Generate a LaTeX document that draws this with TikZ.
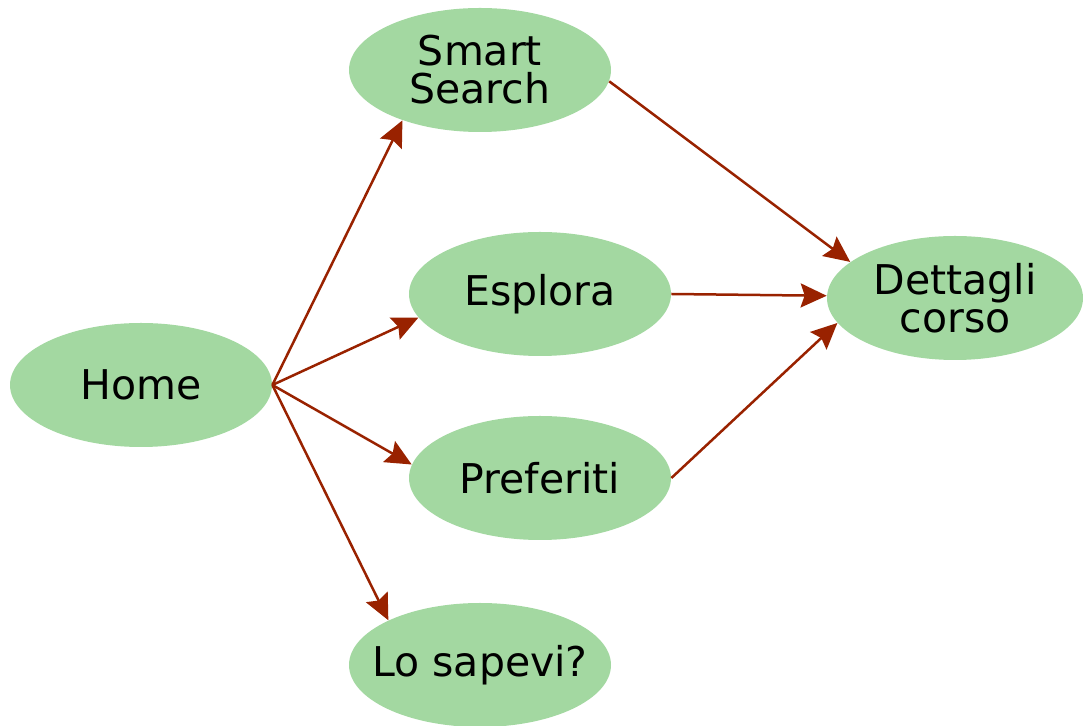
\documentclass[tikz,border=0pt]{standalone}
\usepackage{fontspec}
\setmainfont{DejaVu Sans}
\usetikzlibrary{shapes.geometric,arrows.meta}
\definecolor{nodefill}{HTML}{A3D8A1}
\definecolor{arrowcol}{HTML}{992200}
\begin{document}
\begin{tikzpicture}[x=0.5pt,y=-0.5pt,
  pagenode/.style={ellipse,fill=nodefill,draw=none,inner sep=-20pt,
    minimum width=131pt,minimum height=62pt,align=center,
    font=\fontsize{20.5}{19}\selectfont},
  link/.style={draw=arrowcol,line width=1.25pt,
    -{Stealth[length=13pt,width=12pt,inset=2pt]}}]
\useasboundingbox (0,0) rectangle (1083,726);
\node[pagenode] (home) at (141,385) {Home};
\node[pagenode] (smart) at (480,70) {Smart\\Search};
\node[pagenode] (esplora) at (540,294) {Esplora};
\node[pagenode] (pref) at (540,478) {Preferiti};
\node[pagenode] (lo) at (480,665) {Lo sapevi?};
\node[pagenode,minimum width=128pt] (dett) at (955,298) {Dettagli\\corso};
\draw[link] (home.east) -- (smart.213);
\draw[link] (home.east) -- (esplora.191);
\draw[link] (home.east) -- (pref.174);
\draw[link] (home.east) -- (lo.154);
\draw[link] (smart.-5) -- (dett.161);
\draw[link] (esplora.east) -- (dett.179);
\draw[link] (pref.east) -- (dett.192);
\end{tikzpicture}
\end{document}
